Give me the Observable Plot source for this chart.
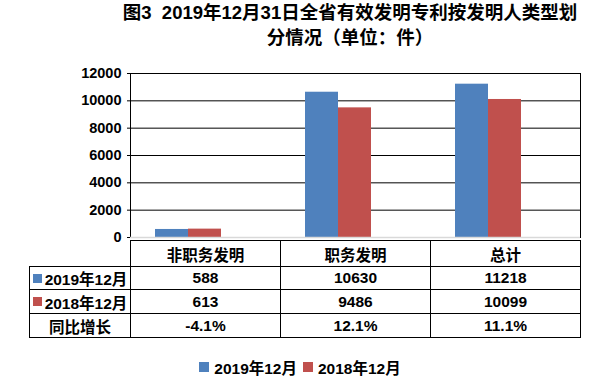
<!DOCTYPE html>
<html>
<head>
<meta charset="utf-8">
<script src="https://cdn.jsdelivr.net/npm/d3@7"></script>
<script src="https://cdn.jsdelivr.net/npm/@observablehq/plot@0.6"></script>
<style>
  html, body { margin: 0; padding: 0; background: #fff; }
  #root { position: relative; width: 613px; height: 389px; overflow: hidden; background: #fff;
          font-family: "Liberation Sans", Arial, "Noto Sans CJK SC", sans-serif; font-weight: bold; color: #000; }
  #title { position: absolute; left: 50px; width: 600px; top: 0; text-align: center; white-space: nowrap;
           font-family: "Liberation Sans", "Noto Sans CJK SC", sans-serif;
           font-size: 18.5px; line-height: 25px; font-weight: bold; }
  #chart { position: absolute; left: 0; top: 0; }
  .line { position: absolute; background: #000; }
  .cell { position: absolute; display: flex; align-items: center; justify-content: center;
          font-size: 15.5px; white-space: nowrap; }
  .sw { display: inline-block; width: 9px; height: 9px; margin-right: 3px; }
  #legend { position: absolute; left: 0; width: 600px; top: 358px; height: 18px; display: flex;
            justify-content: center; align-items: center; font-size: 15.5px; white-space: nowrap; }
  #legend .lsw { display: inline-block; width: 10px; height: 10px; margin-right: 5px; }
  #legend .item { display: flex; align-items: center; margin: 0 3px; }
</style>
</head>
<body>
<div id="root">
  <div id="chart"></div>
  <div id="title">图3&nbsp; 2019年12月31日全省有效发明专利按发明人类型划<br>分情况（单位：件）</div>
  <div id="table"></div>
  <div id="legend"></div>
</div>
<script>
const categories = ["非职务发明", "职务发明", "总计"];
const series = ["2019年12月", "2018年12月"];
const values2019 = [588, 10630, 11218];
const values2018 = [613, 9486, 10099];
const growthLabel = "同比增长";
const growth = ["-4.1%", "12.1%", "11.1%"];
const yTicks = [0, 2000, 4000, 6000, 8000, 10000, 12000];
const colors = ["#4F81BD", "#C0504D"];

const data = categories.flatMap((c, i) => [
  {category: c, series: series[0], value: values2019[i]},
  {category: c, series: series[1], value: values2018[i]}
]);

const chart = Plot.plot({
  width: 613,
  height: 252,
  marginTop: 73,
  marginBottom: 15,
  marginLeft: 130,
  marginRight: 33,
  style: {fontFamily: '"Liberation Sans", Arial, sans-serif', fontWeight: "bold", color: "#000", background: "transparent"},
  x: {domain: categories, padding: 0, axis: null},
  y: {domain: [0, 12000], axis: null},
  color: {domain: series, range: colors},
  marks: [
    Plot.gridY(yTicks, {stroke: "#000", strokeOpacity: 1}),
    Plot.axisY(yTicks, {tickSize: 3, tickPadding: 6, fontSize: 14.5, fontWeight: "bold", label: null,
                        tickFormat: d3.format("d"), stroke: "#000"}),
    Plot.barY(data.filter(d => d.series === series[0]),
              {x: "category", y: "value", fill: "series", insetLeft: 25, insetRight: 92}),
    Plot.barY(data.filter(d => d.series === series[1]),
              {x: "category", y: "value", fill: "series", insetLeft: 58, insetRight: 59}),
    Plot.frame({stroke: "#000"}),
    Plot.ruleY([0], {stroke: "#d9d9d9", strokeWidth: 1.5})
  ]
});
document.getElementById("chart").appendChild(chart);

// data table under the chart
const colEdges = [29, 130, 280, 430, 580];
const rowEdges = [240, 266, 289, 313, 337];
const table = document.getElementById("table");
function line(x, y, w, h) {
  const d = document.createElement("div");
  d.className = "line";
  Object.assign(d.style, {left: x + "px", top: y + "px", width: w + "px", height: h + "px"});
  table.appendChild(d);
}
line(colEdges[1], rowEdges[0], colEdges[4] - colEdges[1] + 1, 1);
for (let r = 1; r < rowEdges.length; r++) line(colEdges[0], rowEdges[r], colEdges[4] - colEdges[0] + 1, 1);
line(colEdges[0], rowEdges[1], 1, rowEdges[4] - rowEdges[1] + 1);
for (let c = 1; c < colEdges.length; c++) line(colEdges[c], rowEdges[0], 1, rowEdges[4] - rowEdges[0] + 1);

function cell(r, c, html) {
  const d = document.createElement("div");
  d.className = "cell";
  Object.assign(d.style, {
    left: (colEdges[c] + 1) + "px", top: (rowEdges[r] + 1) + "px",
    width: (colEdges[c + 1] - colEdges[c] - 1) + "px", height: (rowEdges[r + 1] - rowEdges[r] - 1) + "px"
  });
  d.innerHTML = html;
  table.appendChild(d);
}
categories.forEach((c, i) => cell(0, i + 1, c));
cell(1, 0, `<span class="sw" style="background:${colors[0]}"></span>${series[0]}`);
cell(2, 0, `<span class="sw" style="background:${colors[1]}"></span>${series[1]}`);
cell(3, 0, growthLabel);
values2019.forEach((v, i) => cell(1, i + 1, String(v)));
values2018.forEach((v, i) => cell(2, i + 1, String(v)));
growth.forEach((v, i) => cell(3, i + 1, v));

// legend
const legend = document.getElementById("legend");
series.forEach((s, i) => {
  const it = document.createElement("div");
  it.className = "item";
  it.innerHTML = `<span class="lsw" style="background:${colors[i]}"></span>${s}`;
  legend.appendChild(it);
});
</script>
</body>
</html>
